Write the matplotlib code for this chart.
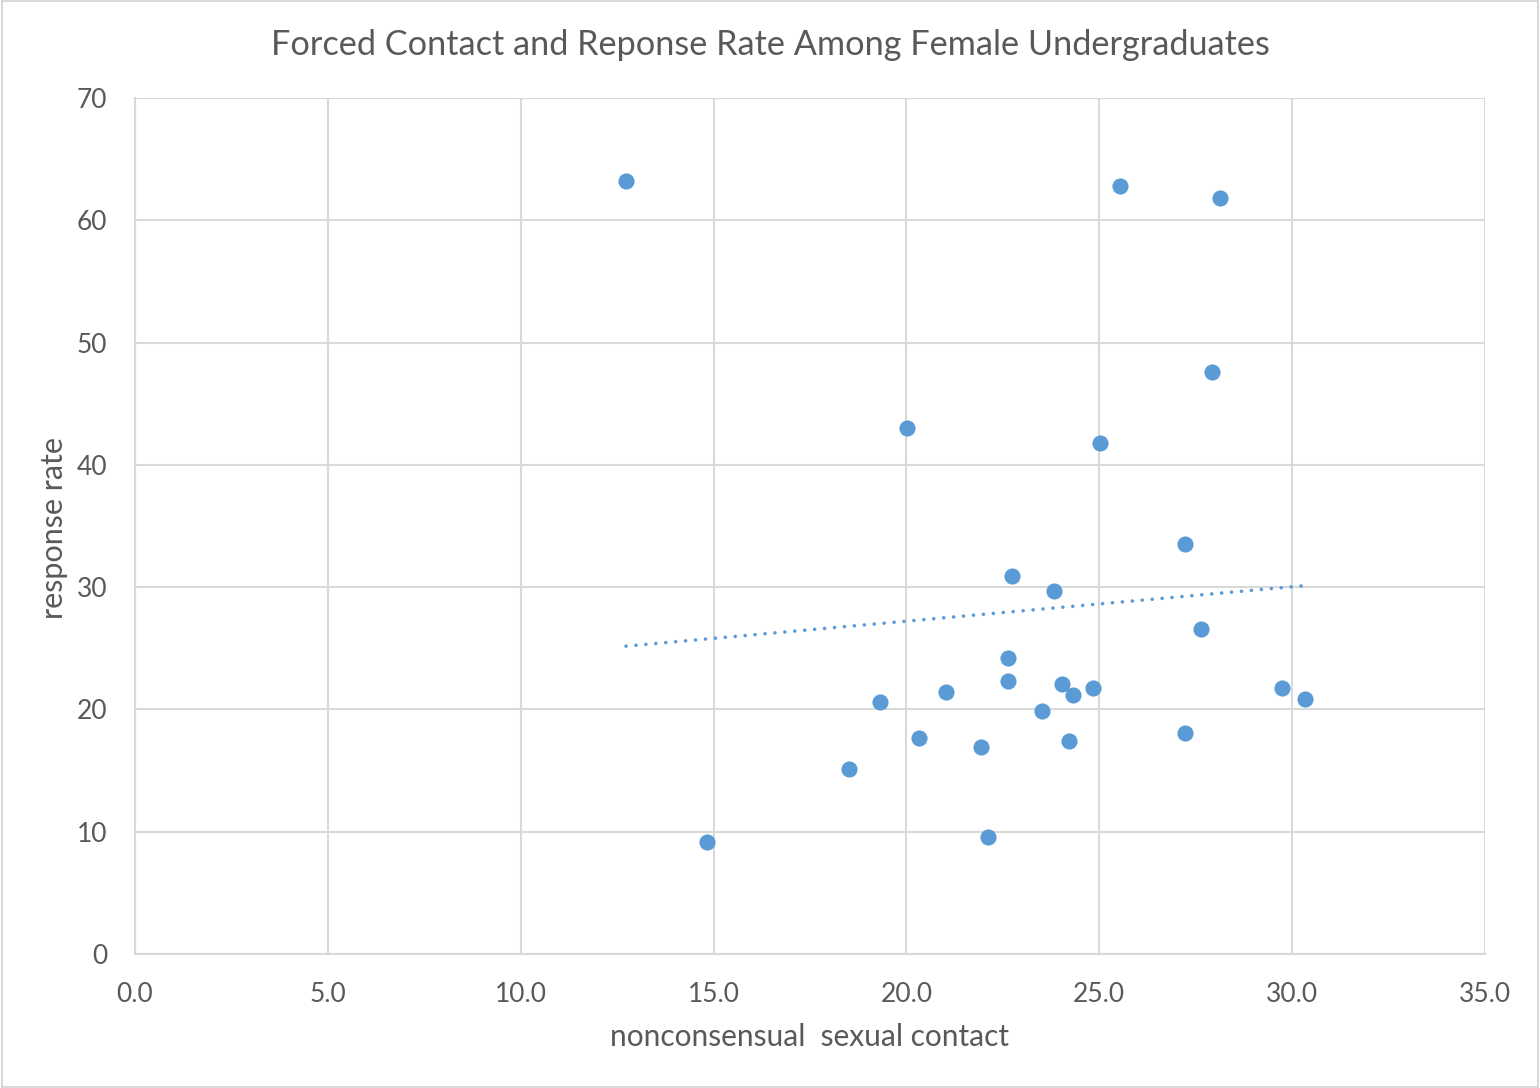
import numpy as np
import matplotlib.pyplot as plt

# nonconsensual sexual contact (%) vs response rate (%)
contact = [12.73, 25.54, 28.13, 27.92, 20.02, 25.02, 27.22, 22.74, 23.83,
           27.64, 22.63, 22.63, 24.03, 24.84, 24.32, 21.03, 19.32, 29.74,
           30.33, 23.52, 20.33, 21.93, 24.22, 27.22, 18.51, 14.83, 22.12]
response = [63.2, 62.8, 61.8, 47.6, 43.0, 41.8, 33.5, 30.9, 29.7,
            26.6, 24.2, 22.3, 22.1, 21.75, 21.2, 21.4, 20.6, 21.75,
            20.85, 19.9, 17.7, 16.9, 17.4, 18.1, 15.1, 9.16, 9.57]

x_ticks = [0, 5, 10, 15, 20, 25, 30, 35]
y_ticks = [0, 10, 20, 30, 40, 50, 60, 70]

blue = '#5b9bd5'
grid = '#d9d9d9'
txt = '#595959'

plt.rcParams['font.family'] = ['Lato', 'DejaVu Sans']

fig = plt.figure(figsize=(15.4, 10.88), dpi=100)
ax = fig.add_axes([135 / 1540, 1 - 954 / 1088, 1350 / 1540, 856 / 1088])

ax.scatter(contact, response, s=135, color=blue, zorder=3, linewidths=0)

# linear trendline (Excel style)
x = np.array(contact)
slope, intercept = np.polyfit(x, np.array(response), 1)
xs = np.array([x.min(), x.max()])
ax.plot(xs, slope * xs + intercept, color=blue, lw=2.6,
        linestyle=(0, (0.01, 2.75)), dash_capstyle='round', zorder=2)

ax.set_xlim(0, 35)
ax.set_ylim(0, 70)
ax.set_xticks(x_ticks)
ax.set_xticklabels([f'{t:.1f}' for t in x_ticks])
ax.set_yticks(y_ticks)
ax.grid(True, color=grid, lw=1.5)
ax.set_axisbelow(True)
for side in ['top', 'right']:
    ax.spines[side].set_visible(False)
for side in ['left', 'bottom']:
    ax.spines[side].set_color(grid)
    ax.spines[side].set_linewidth(1.5)
ax.tick_params(length=0, labelsize=19, colors=txt)
ax.tick_params(axis='x', pad=20)
ax.tick_params(axis='y', pad=20)

fig.text(0.5 * (135 + 1485) / 1540, 1 - 1037 / 1088, 'nonconsensual  sexual contact',
         ha='center', va='center', fontsize=21.5, color=txt)
fig.text(54 / 1540, 1 - 528 / 1088, 'response rate', rotation=90,
         ha='center', va='center', fontsize=22, color=txt)
fig.text(0.5, 1 - 45 / 1088, 'Forced Contact and Reponse Rate Among Female Undergraduates',
         ha='center', va='center', fontsize=24.7, color=txt)

fig.patches.append(plt.Rectangle((0.001, 0.001), 0.998, 0.998, transform=fig.transFigure,
                                 fill=False, edgecolor=grid, lw=1.5))

fig.savefig('out.png', dpi=100)
